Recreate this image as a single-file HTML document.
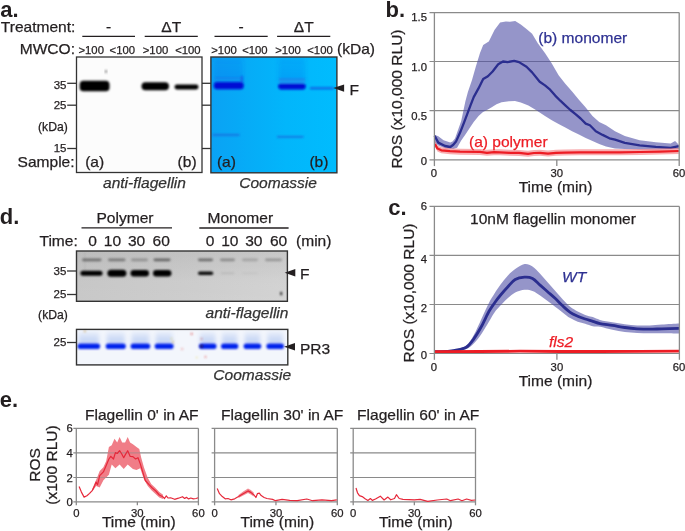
<!DOCTYPE html>
<html><head><meta charset="utf-8"><style>
html,body{margin:0;padding:0;background:#fff;}
svg{display:block;font-family:"Liberation Sans",sans-serif;will-change:transform;}
</style></head><body>
<svg width="685" height="531" viewBox="0 0 685 531">
<defs>
<filter id="blur1" x="-20%" y="-50%" width="140%" height="200%"><feGaussianBlur stdDeviation="0.8"/></filter>
<linearGradient id="laneTint" x1="0" y1="0" x2="0" y2="1"><stop offset="0" stop-color="#1040e0" stop-opacity="0.10"/><stop offset="1" stop-color="#1040e0" stop-opacity="0.18"/></linearGradient>
<linearGradient id="gelA" x1="0" y1="0" x2="1" y2="0">
<stop offset="0" stop-color="#0aa2f4"/><stop offset="0.3" stop-color="#06acf7"/><stop offset="0.6" stop-color="#02b6fb"/><stop offset="1" stop-color="#00bcfe"/></linearGradient>
<linearGradient id="blotD" x1="0" y1="0" x2="1" y2="0">
<stop offset="0" stop-color="#c4c4c4"/><stop offset="0.5" stop-color="#c9c9c9"/><stop offset="1" stop-color="#d0d0d0"/></linearGradient>
<linearGradient id="blotD2" x1="0" y1="0" x2="0" y2="1">
<stop offset="0" stop-color="#000" stop-opacity="0.04"/><stop offset="0.6" stop-color="#fff" stop-opacity="0.05"/><stop offset="1" stop-color="#fff" stop-opacity="0.08"/></linearGradient>
<filter id="blur2" x="-20%" y="-80%" width="140%" height="260%"><feGaussianBlur stdDeviation="1.0"/></filter>
<filter id="blur3" x="-20%" y="-50%" width="140%" height="200%"><feGaussianBlur stdDeviation="2"/></filter>
<linearGradient id="haze" x1="0" y1="0" x2="0" y2="1"><stop offset="0" stop-color="#b8ccf2" stop-opacity="0.25"/><stop offset="1" stop-color="#a8c0f0" stop-opacity="0.75"/></linearGradient>
</defs>
<text x="0.2" y="16.6" text-anchor="start" fill="#231f20" style="font-size:22px;font-weight:bold" >a.</text>
<text x="75.4" y="32" text-anchor="end" fill="#231f20" stroke="#231f20" stroke-width="0.25" style="font-size:15.55px" >Treatment:</text>
<line x1="82.3" y1="36.3" x2="135" y2="36.3" stroke="#231f20" stroke-width="1.3"/>
<text x="108.65" y="32" text-anchor="middle" fill="#231f20" stroke="#231f20" stroke-width="0.25" style="font-size:15.55px" >-</text>
<line x1="144.7" y1="36.3" x2="197.8" y2="36.3" stroke="#231f20" stroke-width="1.3"/>
<text x="171.25" y="32" text-anchor="middle" fill="#231f20" stroke="#231f20" stroke-width="0.25" style="font-size:15.55px" >ΔT</text>
<line x1="214.5" y1="36.3" x2="267.7" y2="36.3" stroke="#231f20" stroke-width="1.3"/>
<text x="241.1" y="32" text-anchor="middle" fill="#231f20" stroke="#231f20" stroke-width="0.25" style="font-size:15.55px" >-</text>
<line x1="277.1" y1="36.3" x2="330.3" y2="36.3" stroke="#231f20" stroke-width="1.3"/>
<text x="303.70000000000005" y="32" text-anchor="middle" fill="#231f20" stroke="#231f20" stroke-width="0.25" style="font-size:15.55px" >ΔT</text>
<text x="75" y="53.5" text-anchor="end" fill="#231f20" stroke="#231f20" stroke-width="0.25" style="font-size:15.55px" >MWCO:</text>
<text x="91.2" y="54" text-anchor="middle" fill="#231f20" stroke="#231f20" stroke-width="0.25" style="font-size:11.3px" >&gt;100</text>
<text x="122.3" y="54" text-anchor="middle" fill="#231f20" stroke="#231f20" stroke-width="0.25" style="font-size:11.3px" >&lt;100</text>
<text x="155.5" y="54" text-anchor="middle" fill="#231f20" stroke="#231f20" stroke-width="0.25" style="font-size:11.3px" >&gt;100</text>
<text x="187.9" y="54" text-anchor="middle" fill="#231f20" stroke="#231f20" stroke-width="0.25" style="font-size:11.3px" >&lt;100</text>
<text x="224" y="54" text-anchor="middle" fill="#231f20" stroke="#231f20" stroke-width="0.25" style="font-size:11.3px" >&gt;100</text>
<text x="254.9" y="54" text-anchor="middle" fill="#231f20" stroke="#231f20" stroke-width="0.25" style="font-size:11.3px" >&lt;100</text>
<text x="288" y="54" text-anchor="middle" fill="#231f20" stroke="#231f20" stroke-width="0.25" style="font-size:11.3px" >&gt;100</text>
<text x="320" y="54" text-anchor="middle" fill="#231f20" stroke="#231f20" stroke-width="0.25" style="font-size:11.3px" >&lt;100</text>
<text x="337" y="53.5" text-anchor="start" fill="#231f20" stroke="#231f20" stroke-width="0.25" style="font-size:15.55px" >(kDa)</text>
<rect x="76.5" y="57" width="125.5" height="115.5" fill="#fcfcfc" stroke="#333" stroke-width="1.3"/>
<g filter="url(#blur1)" fill="#000">
<rect x="79.7" y="80.8" width="29.8" height="10.4" rx="3.8"/>
<rect x="141.5" y="82.2" width="27.5" height="8" rx="4"/>
<rect x="174.5" y="84.6" width="24" height="4.8" rx="2.4"/>
</g>
<ellipse cx="106" cy="71.5" rx="0.8" ry="1.8" fill="#666" filter="url(#blur1)"/>
<line x1="67.2" y1="83.3" x2="76.5" y2="83.3" stroke="#333" stroke-width="1.3"/>
<line x1="202" y1="83.3" x2="210.9" y2="83.3" stroke="#333" stroke-width="1.3"/>
<line x1="67.2" y1="105.2" x2="76.5" y2="105.2" stroke="#333" stroke-width="1.3"/>
<line x1="202" y1="105.2" x2="210.9" y2="105.2" stroke="#333" stroke-width="1.3"/>
<line x1="67.2" y1="148.5" x2="76.5" y2="148.5" stroke="#333" stroke-width="1.3"/>
<line x1="202" y1="148.5" x2="210.9" y2="148.5" stroke="#333" stroke-width="1.3"/>
<text x="66.5" y="88.8" text-anchor="end" fill="#231f20" stroke="#231f20" stroke-width="0.25" style="font-size:11.5px" >35</text>
<text x="66.5" y="109" text-anchor="end" fill="#231f20" stroke="#231f20" stroke-width="0.25" style="font-size:11.5px" >25</text>
<text x="52.9" y="130.5" text-anchor="middle" fill="#231f20" stroke="#231f20" stroke-width="0.25" style="font-size:12.2px" >(kDa)</text>
<text x="66.5" y="152.2" text-anchor="end" fill="#231f20" stroke="#231f20" stroke-width="0.25" style="font-size:11.5px" >15</text>
<text x="74.6" y="166.9" text-anchor="end" fill="#231f20" stroke="#231f20" stroke-width="0.25" style="font-size:15.55px" >Sample:</text>
<text x="85.2" y="167.2" text-anchor="start" fill="#231f20" stroke="#231f20" stroke-width="0.25" style="font-size:15.55px" >(a)</text>
<text x="177.6" y="167.2" text-anchor="start" fill="#231f20" stroke="#231f20" stroke-width="0.25" style="font-size:15.55px" >(b)</text>
<rect x="210.9" y="57" width="126" height="115.8" fill="url(#gelA)"/>
<g filter="url(#blur3)"><rect x="214" y="57.5" width="29" height="25" fill="url(#laneTint)"/>
<rect x="278.5" y="57.5" width="27" height="26" fill="url(#laneTint)"/></g>
<g filter="url(#blur1)">
<rect x="213.8" y="82.1" width="29.9" height="7.1" rx="3.2" fill="#0008d4"/>
<rect x="241.2" y="76" width="1.3" height="7" fill="#1a3ae0"/>
<rect x="215" y="77.6" width="27" height="1.3" fill="#2c6ae4" opacity="0.55"/>
<rect x="278.2" y="83.6" width="27.5" height="5.8" rx="2.8" fill="#0008d4"/>
<rect x="279" y="78.6" width="26" height="1.3" fill="#2c6ae4" opacity="0.7"/>
<rect x="279" y="80" width="26" height="3.6" fill="#3a80e8" opacity="0.35"/>
<rect x="310" y="87.4" width="23.7" height="1.8" fill="#1040d8" opacity="0.85"/>
<rect x="212.5" y="134.1" width="27" height="1.6" fill="#2060d8" opacity="0.85"/>
<rect x="277" y="136" width="26.5" height="1.6" fill="#2060d8" opacity="0.85"/>
</g>
<rect x="210.9" y="57" width="126" height="115.8" fill="none" stroke="#333" stroke-width="1.4"/>
<text x="216.9" y="167.2" text-anchor="start" fill="#231f20" stroke="#231f20" stroke-width="0.25" style="font-size:15.55px" >(a)</text>
<text x="309.4" y="167.2" text-anchor="start" fill="#231f20" stroke="#231f20" stroke-width="0.25" style="font-size:15.55px" >(b)</text>
<text x="103" y="187.8" text-anchor="start" fill="#333" stroke="#333" stroke-width="0.25" style="font-size:15.55px;font-style:italic" >anti-flagellin</text>
<text x="239.2" y="187.8" text-anchor="start" fill="#333" stroke="#333" stroke-width="0.25" style="font-size:15.55px;font-style:italic" >Coomassie</text>
<polygon points="333.3,88.1 344.1,84.4 344.1,91.8" fill="#231f20"/>
<text x="349.4" y="94.7" text-anchor="start" fill="#231f20" stroke="#231f20" stroke-width="0.25" style="font-size:15.55px" >F</text>
<text x="385.6" y="16.6" text-anchor="start" fill="#231f20" style="font-size:22px;font-weight:bold" >b.</text>
<line x1="429.5" y1="12.6" x2="679.2" y2="12.6" stroke="#8a8a8a" stroke-width="1.2"/>
<line x1="429.5" y1="61.5" x2="679.2" y2="61.5" stroke="#8a8a8a" stroke-width="1.2"/>
<line x1="429.5" y1="110.6" x2="679.2" y2="110.6" stroke="#8a8a8a" stroke-width="1.2"/>
<polygon points="434.6,134.7 438.3,136.2 443.6,140.3 450.3,142.6 452.5,141.5 455.0,138.5 461.2,120.9 465.4,101.2 467.9,92.0 472.0,80.0 476.0,66.0 480.0,53.0 483.2,45.1 488.8,41.4 494.5,30.1 500.1,22.5 505.8,21.6 510.0,21.8 515.2,21.0 520.8,24.4 526.5,29.1 532.1,33.8 537.8,43.2 545.3,53.6 551.8,63.4 558.6,75.3 565.3,83.7 572.1,91.4 578.9,99.8 585.7,107.5 592.5,115.9 599.2,121.9 606.0,125.3 615.0,131.2 624.8,136.0 639.7,140.3 655.8,142.2 670.7,143.4 675.1,141.0 678.8,144.7 678.8,149.0 655.8,149.6 639.7,149.6 624.8,149.0 615.0,148.5 606.0,146.4 599.2,143.9 592.5,141.0 585.7,138.0 578.9,134.6 572.1,131.2 565.3,127.5 558.6,124.1 551.8,120.2 545.0,115.9 535.9,110.1 528.4,105.4 520.8,102.6 515.0,101.0 508.9,101.2 501.6,102.3 496.5,104.3 491.3,107.4 486.1,110.5 483.0,112.1 478.8,115.7 473.7,121.9 469.5,128.2 465.4,134.4 461.2,140.6 457.1,147.8 453.3,149.0 445.1,148.2 438.3,145.6 434.6,142.6" fill="#4e4ea5" fill-opacity="0.6" stroke="none"/>
<polyline points="434.6,135.8 438.3,142.6 445.1,146.0 450.3,147.0 453.3,144.8 456.0,141.6 460.2,132.3 464.3,121.9 467.4,113.7 470.5,105.4 473.7,97.1 478.5,88.4 483.2,79.0 487.9,76.2 492.6,71.5 498.2,64.3 503.0,61.5 507.7,62.1 514.2,60.8 519.0,62.1 526.5,66.8 532.1,72.4 539.7,81.8 545.0,85.4 550.1,89.7 555.2,95.6 560.3,100.7 565.3,105.4 570.4,110.0 575.5,114.2 580.6,118.5 585.7,123.6 589.9,125.3 595.8,131.2 602.6,134.9 609.4,138.3 615.0,139.7 624.8,142.8 639.7,145.3 655.8,146.9 670.7,147.8 678.8,146.2" fill="none" stroke="#2b2e8f" stroke-width="2.3" stroke-opacity="1.0" stroke-linejoin="round" stroke-linecap="butt" />
<polygon points="435.0,141.1 437.5,145.6 441.3,147.3 450.0,148.2 460.0,148.7 480.0,148.9 487.0,149.8 494.0,149.2 500.0,149.3 510.0,149.8 519.0,149.9 528.0,150.8 534.0,150.0 540.0,149.8 548.0,150.6 556.0,149.8 565.0,149.6 580.0,149.3 600.0,149.3 620.0,149.3 640.0,149.0 660.0,148.6 678.8,148.0 678.8,154.0 660.0,154.6 640.0,155.0 620.0,155.3 600.0,155.3 580.0,155.3 565.0,155.6 556.0,155.8 548.0,156.6 540.0,155.8 534.0,156.0 528.0,156.8 519.0,155.9 510.0,155.8 500.0,155.3 494.0,155.2 487.0,155.8 480.0,154.9 460.0,154.7 450.0,154.2 441.3,153.3 437.5,151.6 435.0,147.1" fill="#f37a80" fill-opacity="0.62" stroke="none"/>
<polyline points="435.0,144.1 437.5,148.6 441.3,150.3 450.0,151.2 460.0,151.7 480.0,151.9 487.0,152.8 494.0,152.2 500.0,152.3 510.0,152.8 519.0,152.9 528.0,153.8 534.0,153.0 540.0,152.8 548.0,153.6 556.0,152.8 565.0,152.6 580.0,152.3 600.0,152.3 620.0,152.3 640.0,152.0 660.0,151.6 678.8,151.0" fill="none" stroke="#ed1c24" stroke-width="2.2" stroke-opacity="1.0" stroke-linejoin="round" stroke-linecap="butt" />
<line x1="429.5" y1="159.8" x2="679.2" y2="159.8" stroke="#8a8a8a" stroke-width="1.2"/>
<line x1="434.4" y1="12.6" x2="434.4" y2="166.10000000000002" stroke="#8a8a8a" stroke-width="1.3"/>
<line x1="679.2" y1="12.6" x2="679.2" y2="166.10000000000002" stroke="#8a8a8a" stroke-width="1.3"/>
<line x1="556.8" y1="159.8" x2="556.8" y2="166.10000000000002" stroke="#8a8a8a" stroke-width="1.3"/>
<text x="427" y="21" text-anchor="end" fill="#231f20" stroke="#231f20" stroke-width="0.25" style="font-size:11.3px" >1.5</text>
<text x="427" y="71.3" text-anchor="end" fill="#231f20" stroke="#231f20" stroke-width="0.25" style="font-size:11.3px" >1.0</text>
<text x="427" y="119.9" text-anchor="end" fill="#231f20" stroke="#231f20" stroke-width="0.25" style="font-size:11.3px" >0.5</text>
<text x="427" y="165" text-anchor="end" fill="#231f20" stroke="#231f20" stroke-width="0.25" style="font-size:11.3px" >0</text>
<text x="434" y="177" text-anchor="middle" fill="#231f20" stroke="#231f20" stroke-width="0.25" style="font-size:11.3px" >0</text>
<text x="556.8" y="177.3" text-anchor="middle" fill="#231f20" stroke="#231f20" stroke-width="0.25" style="font-size:11.3px" >30</text>
<text x="679" y="177.3" text-anchor="middle" fill="#231f20" stroke="#231f20" stroke-width="0.25" style="font-size:11.3px" >60</text>
<text x="555.5" y="191.5" text-anchor="middle" fill="#231f20" stroke="#231f20" stroke-width="0.25" style="font-size:15.55px" >Time (min)</text>
<text transform="translate(401.5,99) rotate(-90)" text-anchor="middle" fill="#231f20" stroke="#231f20" stroke-width="0.25" style="font-size:15.55px">ROS (x10,000 RLU)</text>
<text x="538.3" y="43.4" text-anchor="start" fill="#2e3192" stroke="#2e3192" stroke-width="0.25" style="font-size:15.55px" >(b) monomer</text>
<text x="469" y="146.7" text-anchor="start" fill="#ed1c24" stroke="#ed1c24" stroke-width="0.25" style="font-size:15.55px" >(a) polymer</text>
<text x="388.3" y="214.6" text-anchor="start" fill="#231f20" style="font-size:22px;font-weight:bold" >c.</text>
<line x1="429.5" y1="206.4" x2="679.4" y2="206.4" stroke="#8a8a8a" stroke-width="1.2"/>
<line x1="429.5" y1="255.3" x2="679.4" y2="255.3" stroke="#8a8a8a" stroke-width="1.2"/>
<line x1="429.5" y1="304.5" x2="679.4" y2="304.5" stroke="#8a8a8a" stroke-width="1.2"/>
<path d="M455.00,349.50 C456.88,348.82 463.17,347.82 466.30,345.40 C469.43,342.98 471.28,339.40 473.80,335.00 C476.32,330.60 478.88,324.33 481.40,319.00 C483.92,313.67 486.72,307.23 488.90,303.00 C491.08,298.77 492.62,296.58 494.50,293.60 C496.38,290.62 498.00,288.08 500.20,285.10 C502.40,282.12 505.20,278.37 507.70,275.70 C510.20,273.03 512.38,271.05 515.20,269.10 C518.02,267.15 521.72,264.43 524.60,264.00 C527.48,263.57 529.92,264.87 532.50,266.50 C535.08,268.13 537.58,271.17 540.10,273.80 C542.62,276.43 545.10,279.47 547.60,282.30 C550.10,285.13 552.60,287.98 555.10,290.80 C557.60,293.62 560.08,296.53 562.60,299.20 C565.12,301.87 567.68,304.75 570.20,306.80 C572.72,308.85 575.20,310.15 577.70,311.50 C580.20,312.85 582.68,313.97 585.20,314.90 C587.72,315.83 590.33,316.27 592.80,317.10 C595.27,317.93 596.73,319.03 600.00,319.90 C603.27,320.77 608.27,321.58 612.40,322.30 C616.53,323.02 620.67,323.68 624.80,324.20 C628.93,324.72 633.07,325.20 637.20,325.40 C641.33,325.60 645.47,325.53 649.60,325.40 C653.73,325.27 657.10,324.90 662.00,324.60 C666.90,324.30 676.17,323.77 679.00,323.60 L679.00,333.50 C676.17,333.47 666.90,333.33 662.00,333.30 C657.10,333.27 653.73,333.37 649.60,333.30 C645.47,333.23 641.33,333.12 637.20,332.90 C633.07,332.68 628.93,332.52 624.80,332.00 C620.67,331.48 616.53,330.68 612.40,329.80 C608.27,328.92 603.27,327.30 600.00,326.70 C596.73,326.10 595.27,326.70 592.80,326.20 C590.33,325.70 587.72,324.43 585.20,323.70 C582.68,322.97 580.20,322.73 577.70,321.80 C575.20,320.87 572.72,319.67 570.20,318.10 C567.68,316.53 565.12,314.28 562.60,312.40 C560.08,310.52 557.60,308.68 555.10,306.80 C552.60,304.92 550.10,302.98 547.60,301.10 C545.10,299.22 542.62,297.18 540.10,295.50 C537.58,293.82 535.08,291.95 532.50,291.00 C529.92,290.05 527.48,289.53 524.60,289.80 C521.72,290.07 518.02,291.18 515.20,292.60 C512.38,294.02 510.20,296.10 507.70,298.30 C505.20,300.50 502.40,303.45 500.20,305.80 C498.00,308.15 496.38,309.73 494.50,312.40 C492.62,315.07 491.08,318.20 488.90,321.80 C486.72,325.40 483.92,330.38 481.40,334.00 C478.88,337.62 476.32,340.98 473.80,343.50 C471.28,346.02 469.43,347.93 466.30,349.10 C463.17,350.27 456.88,350.27 455.00,350.50 Z" fill="#4e4ea5" fill-opacity="0.6" stroke="none"/>
<path d="M434.40,351.60 C436.63,351.57 444.37,351.60 447.80,351.40 C451.23,351.20 451.92,351.10 455.00,350.40 C458.08,349.70 463.17,349.13 466.30,347.20 C469.43,345.27 471.28,342.25 473.80,338.80 C476.32,335.35 478.88,331.05 481.40,326.50 C483.92,321.95 486.72,315.42 488.90,311.50 C491.08,307.58 492.62,305.67 494.50,303.00 C496.38,300.33 498.00,298.17 500.20,295.50 C502.40,292.83 505.20,289.67 507.70,287.00 C510.20,284.33 512.38,281.13 515.20,279.50 C518.02,277.87 521.72,277.37 524.60,277.20 C527.48,277.03 529.92,277.18 532.50,278.50 C535.08,279.82 537.58,282.90 540.10,285.10 C542.62,287.30 545.10,289.50 547.60,291.70 C550.10,293.90 552.60,295.95 555.10,298.30 C557.60,300.65 560.08,303.45 562.60,305.80 C565.12,308.15 567.68,310.67 570.20,312.40 C572.72,314.13 575.20,315.10 577.70,316.20 C580.20,317.30 582.68,318.15 585.20,319.00 C587.72,319.85 590.33,320.53 592.80,321.30 C595.27,322.07 596.73,322.92 600.00,323.60 C603.27,324.28 608.27,324.75 612.40,325.40 C616.53,326.05 620.67,326.93 624.80,327.50 C628.93,328.07 633.07,328.52 637.20,328.80 C641.33,329.08 645.47,329.20 649.60,329.20 C653.73,329.20 657.10,328.95 662.00,328.80 C666.90,328.65 676.17,328.38 679.00,328.30" fill="none" stroke="#2b2e8f" stroke-width="2.8" stroke-opacity="1.0" stroke-linejoin="round"/>
<polyline points="434.4,351.6 480.0,351.5 520.0,351.2 560.0,351.5 600.0,351.5 640.0,351.3 679.0,351.1" fill="none" stroke="#ed1c24" stroke-width="2.8" stroke-opacity="1.0" stroke-linejoin="round" stroke-linecap="butt" />
<line x1="429.5" y1="353.5" x2="679.4" y2="353.5" stroke="#8a8a8a" stroke-width="1.2"/>
<line x1="434.4" y1="206.4" x2="434.4" y2="359.8" stroke="#8a8a8a" stroke-width="1.3"/>
<line x1="679.4" y1="206.4" x2="679.4" y2="359.8" stroke="#8a8a8a" stroke-width="1.3"/>
<line x1="556.9" y1="353.5" x2="556.9" y2="359.8" stroke="#8a8a8a" stroke-width="1.3"/>
<text x="427" y="210" text-anchor="end" fill="#231f20" stroke="#231f20" stroke-width="0.25" style="font-size:11.3px" >6</text>
<text x="427" y="262.8" text-anchor="end" fill="#231f20" stroke="#231f20" stroke-width="0.25" style="font-size:11.3px" >4</text>
<text x="427" y="312.2" text-anchor="end" fill="#231f20" stroke="#231f20" stroke-width="0.25" style="font-size:11.3px" >2</text>
<text x="427" y="358.9" text-anchor="end" fill="#231f20" stroke="#231f20" stroke-width="0.25" style="font-size:11.3px" >0</text>
<text x="434" y="371.2" text-anchor="middle" fill="#231f20" stroke="#231f20" stroke-width="0.25" style="font-size:11.3px" >0</text>
<text x="556.9" y="371.2" text-anchor="middle" fill="#231f20" stroke="#231f20" stroke-width="0.25" style="font-size:11.3px" >30</text>
<text x="679" y="371.2" text-anchor="middle" fill="#231f20" stroke="#231f20" stroke-width="0.25" style="font-size:11.3px" >60</text>
<text x="555.5" y="385.8" text-anchor="middle" fill="#231f20" stroke="#231f20" stroke-width="0.25" style="font-size:15.55px" >Time (min)</text>
<text transform="translate(414.3,293) rotate(-90)" text-anchor="middle" fill="#231f20" stroke="#231f20" stroke-width="0.25" style="font-size:15.55px">ROS (x10,000 RLU)</text>
<text x="470" y="224.2" text-anchor="start" fill="#231f20" stroke="#231f20" stroke-width="0.25" style="font-size:15.55px" >10nM flagellin monomer</text>
<text x="562" y="282.1" text-anchor="start" fill="#2e3192" stroke="#2e3192" stroke-width="0.25" style="font-size:15.55px;font-style:italic" >WT</text>
<text x="549" y="346.6" text-anchor="start" fill="#ed1c24" stroke="#ed1c24" stroke-width="0.25" style="font-size:15.55px;font-style:italic" >fls2</text>
<text x="-0.3" y="223.5" text-anchor="start" fill="#231f20" style="font-size:22px;font-weight:bold" >d.</text>
<text x="125.0" y="223.1" text-anchor="middle" fill="#231f20" stroke="#231f20" stroke-width="0.25" style="font-size:15.55px" >Polymer</text>
<line x1="81.5" y1="227.8" x2="172" y2="227.8" stroke="#231f20" stroke-width="1.3"/>
<text x="240.3" y="223.1" text-anchor="middle" fill="#231f20" stroke="#231f20" stroke-width="0.25" style="font-size:15.55px" >Monomer</text>
<line x1="199.3" y1="228" x2="288.6" y2="228" stroke="#231f20" stroke-width="1.3"/>
<text x="77.8" y="246" text-anchor="end" fill="#231f20" stroke="#231f20" stroke-width="0.25" style="font-size:15.55px" >Time:</text>
<text x="92.7" y="246" text-anchor="middle" fill="#231f20" stroke="#231f20" stroke-width="0.25" style="font-size:15.55px" >0</text>
<text x="112.5" y="246" text-anchor="middle" fill="#231f20" stroke="#231f20" stroke-width="0.25" style="font-size:15.55px" >10</text>
<text x="136.6" y="246" text-anchor="middle" fill="#231f20" stroke="#231f20" stroke-width="0.25" style="font-size:15.55px" >30</text>
<text x="161.2" y="246" text-anchor="middle" fill="#231f20" stroke="#231f20" stroke-width="0.25" style="font-size:15.55px" >60</text>
<text x="210.1" y="246" text-anchor="middle" fill="#231f20" stroke="#231f20" stroke-width="0.25" style="font-size:15.55px" >0</text>
<text x="229.8" y="246" text-anchor="middle" fill="#231f20" stroke="#231f20" stroke-width="0.25" style="font-size:15.55px" >10</text>
<text x="253.8" y="246" text-anchor="middle" fill="#231f20" stroke="#231f20" stroke-width="0.25" style="font-size:15.55px" >30</text>
<text x="278.6" y="246" text-anchor="middle" fill="#231f20" stroke="#231f20" stroke-width="0.25" style="font-size:15.55px" >60</text>
<text x="296" y="246" text-anchor="start" fill="#231f20" stroke="#231f20" stroke-width="0.25" style="font-size:15.55px" >(min)</text>
<rect x="76.5" y="251" width="210.9" height="50.3" fill="url(#blotD)"/>
<rect x="76.5" y="251" width="210.9" height="50.3" fill="url(#blotD2)"/>
<g filter="url(#blur2)" fill="#000">
<rect x="80.4" y="270.7" width="22.099999999999994" height="5.0" rx="2.5" fill-opacity="1"/>
<rect x="107.4" y="269.7" width="19.0" height="7" rx="3.5" fill-opacity="1"/>
<rect x="130.5" y="269.95" width="18.5" height="6.5" rx="3.25" fill-opacity="1"/>
<rect x="153" y="269.95" width="18.400000000000006" height="6.5" rx="3.25" fill-opacity="1"/>
<rect x="198" y="271.4" width="15.199999999999989" height="3.6" rx="1.8" fill-opacity="0.95"/>
<rect x="220.5" y="272.4" width="14.0" height="1.6" rx="0.8" fill-opacity="0.1"/>
<rect x="242" y="272.5" width="16" height="1.4" rx="0.7" fill-opacity="0.05"/>
<rect x="82" y="258.4" width="19.5" height="2.8" rx="1.4" fill-opacity="0.42"/>
<rect x="108" y="258.4" width="17.5" height="2.8" rx="1.4" fill-opacity="0.38"/>
<rect x="131" y="258.4" width="17" height="2.8" rx="1.4" fill-opacity="0.25"/>
<rect x="153.5" y="258.4" width="17.0" height="2.8" rx="1.4" fill-opacity="0.48"/>
<rect x="198" y="258.4" width="15" height="2.8" rx="1.4" fill-opacity="0.45"/>
<rect x="220" y="258.4" width="15" height="2.8" rx="1.4" fill-opacity="0.3"/>
<rect x="242" y="258.4" width="16" height="2.8" rx="1.4" fill-opacity="0.18"/>
<rect x="265" y="258.4" width="17" height="2.8" rx="1.4" fill-opacity="0.25"/>
<rect x="280.4" y="291.8" width="1.6" height="3.6" rx="0.8" fill-opacity="1"/>
<rect x="84.6" y="252" width="0.6" height="20" fill-opacity="0.12"/>
</g>
<rect x="76.5" y="251" width="210.9" height="50.3" fill="none" stroke="#333" stroke-width="1.4"/>
<line x1="67" y1="271" x2="76.5" y2="271" stroke="#333" stroke-width="1.3"/>
<text x="66.3" y="274.9" text-anchor="end" fill="#231f20" stroke="#231f20" stroke-width="0.25" style="font-size:11.5px" >35</text>
<line x1="67" y1="294.5" x2="76.5" y2="294.5" stroke="#333" stroke-width="1.3"/>
<text x="66.3" y="298.4" text-anchor="end" fill="#231f20" stroke="#231f20" stroke-width="0.25" style="font-size:11.5px" >25</text>
<polygon points="284.7,272.7 295.3,269 295.3,276.4" fill="#231f20"/>
<text x="300" y="279.4" text-anchor="start" fill="#231f20" stroke="#231f20" stroke-width="0.25" style="font-size:15.55px" >F</text>
<text x="53" y="319" text-anchor="middle" fill="#231f20" stroke="#231f20" stroke-width="0.25" style="font-size:12.2px" >(kDa)</text>
<text x="205.5" y="318.1" text-anchor="start" fill="#333" stroke="#333" stroke-width="0.25" style="font-size:15.55px;font-style:italic" >anti-flagellin</text>
<rect x="76.5" y="329.4" width="211.3" height="35.5" fill="#f3f6fc"/>
<g filter="url(#blur3)">
<rect x="78.5" y="332" width="20.599999999999994" height="11.5" fill="url(#haze)"/>
<rect x="106.7" y="332" width="18.099999999999994" height="11.5" fill="url(#haze)"/>
<rect x="131.6" y="332" width="17.599999999999994" height="11.5" fill="url(#haze)"/>
<rect x="155.7" y="332" width="16.900000000000006" height="11.5" fill="url(#haze)"/>
<rect x="199.9" y="332" width="15.599999999999994" height="11.5" fill="url(#haze)"/>
<rect x="222" y="332" width="15.300000000000011" height="11.5" fill="url(#haze)"/>
<rect x="244.6" y="332" width="15.599999999999994" height="11.5" fill="url(#haze)"/>
<rect x="267.4" y="332" width="15.600000000000023" height="11.5" fill="url(#haze)"/>
</g>
<g filter="url(#blur1)">
<rect x="77.5" y="343.5" width="22.599999999999994" height="5.6" rx="2.8" fill="#0422ec"/>
<rect x="105.7" y="343.5" width="20.099999999999994" height="5.6" rx="2.8" fill="#0422ec"/>
<rect x="130.6" y="343.5" width="19.599999999999994" height="5.6" rx="2.8" fill="#0422ec"/>
<rect x="154.7" y="343.5" width="18.900000000000006" height="5.6" rx="2.8" fill="#0422ec"/>
<rect x="198.9" y="343.5" width="17.599999999999994" height="5.6" rx="2.8" fill="#0422ec"/>
<rect x="221" y="343.5" width="17.30000000000001" height="5.6" rx="2.8" fill="#0422ec"/>
<rect x="243.6" y="343.5" width="17.599999999999994" height="5.6" rx="2.8" fill="#0422ec"/>
<rect x="266.4" y="343.5" width="17.600000000000023" height="5.6" rx="2.8" fill="#0422ec"/>
</g>
<g filter="url(#blur1)">
<rect x="191" y="333" width="1.2" height="1.6" fill="#d02020"/>
<rect x="181.5" y="348.5" width="1.4" height="1" fill="#e04040"/>
<rect x="205" y="356" width="1" height="1.6" fill="#e03030"/>
<rect x="201" y="338" width="1" height="1.4" fill="#c03030"/>
<rect x="171" y="338" width="1" height="1.2" fill="#e8d040"/>
<rect x="196" y="357" width="1.4" height="1" fill="#e8d860"/>
<rect x="84" y="330.5" width="1.6" height="1.4" fill="#c09040"/>
<rect x="200.5" y="345" width="2" height="2.4" fill="#401010"/>
<rect x="172.5" y="341" width="1" height="2" fill="#c0a040"/>
</g>
<rect x="76.5" y="329.4" width="211.3" height="35.5" fill="none" stroke="#333" stroke-width="1.4"/>
<line x1="67" y1="342.5" x2="76.5" y2="342.5" stroke="#333" stroke-width="1.3"/>
<text x="66.3" y="346.4" text-anchor="end" fill="#231f20" stroke="#231f20" stroke-width="0.25" style="font-size:11.5px" >25</text>
<polygon points="284.1,346.8 295,343 295,350.6" fill="#231f20"/>
<text x="300" y="353.6" text-anchor="start" fill="#231f20" stroke="#231f20" stroke-width="0.25" style="font-size:15.55px" >PR3</text>
<text x="213.3" y="379.9" text-anchor="start" fill="#333" stroke="#333" stroke-width="0.25" style="font-size:15.55px;font-style:italic" >Coomassie</text>
<text x="-0.2" y="407.3" text-anchor="start" fill="#231f20" style="font-size:22px;font-weight:bold" >e.</text>
<line x1="73.3" y1="428.3" x2="198.4" y2="428.3" stroke="#8a8a8a" stroke-width="1.2"/>
<line x1="73.3" y1="452.8" x2="198.4" y2="452.8" stroke="#8a8a8a" stroke-width="1.2"/>
<line x1="73.3" y1="477.5" x2="198.4" y2="477.5" stroke="#8a8a8a" stroke-width="1.2"/>
<line x1="73.3" y1="501.8" x2="198.4" y2="501.8" stroke="#8a8a8a" stroke-width="1.2"/>
<line x1="76.3" y1="428.3" x2="76.3" y2="505.3" stroke="#8a8a8a" stroke-width="1.3"/>
<line x1="198.4" y1="428.3" x2="198.4" y2="505.3" stroke="#8a8a8a" stroke-width="1.3"/>
<line x1="137.35" y1="501.8" x2="137.35" y2="505.3" stroke="#8a8a8a" stroke-width="1.3"/>
<text x="141.8" y="419.7" text-anchor="middle" fill="#231f20" stroke="#231f20" stroke-width="0.25" style="font-size:15.55px" >Flagellin 0' in AF</text>
<text x="76.3" y="517" text-anchor="middle" fill="#231f20" stroke="#231f20" stroke-width="0.25" style="font-size:11.3px" >0</text>
<text x="137.35" y="517" text-anchor="middle" fill="#231f20" stroke="#231f20" stroke-width="0.25" style="font-size:11.3px" >30</text>
<text x="198.4" y="517" text-anchor="middle" fill="#231f20" stroke="#231f20" stroke-width="0.25" style="font-size:11.3px" >60</text>
<text x="138.75" y="526.6" text-anchor="middle" fill="#231f20" stroke="#231f20" stroke-width="0.25" style="font-size:15.55px" >Time (min)</text>
<line x1="211.6" y1="428.3" x2="337.3" y2="428.3" stroke="#8a8a8a" stroke-width="1.2"/>
<line x1="211.6" y1="452.8" x2="337.3" y2="452.8" stroke="#8a8a8a" stroke-width="1.2"/>
<line x1="211.6" y1="477.5" x2="337.3" y2="477.5" stroke="#8a8a8a" stroke-width="1.2"/>
<line x1="211.6" y1="501.8" x2="337.3" y2="501.8" stroke="#8a8a8a" stroke-width="1.2"/>
<line x1="214.6" y1="428.3" x2="214.6" y2="505.3" stroke="#8a8a8a" stroke-width="1.3"/>
<line x1="337.3" y1="428.3" x2="337.3" y2="505.3" stroke="#8a8a8a" stroke-width="1.3"/>
<line x1="275.95" y1="501.8" x2="275.95" y2="505.3" stroke="#8a8a8a" stroke-width="1.3"/>
<text x="282.2" y="419.7" text-anchor="middle" fill="#231f20" stroke="#231f20" stroke-width="0.25" style="font-size:15.55px" >Flagellin 30' in AF</text>
<text x="214.6" y="517" text-anchor="middle" fill="#231f20" stroke="#231f20" stroke-width="0.25" style="font-size:11.3px" >0</text>
<text x="275.95" y="517" text-anchor="middle" fill="#231f20" stroke="#231f20" stroke-width="0.25" style="font-size:11.3px" >30</text>
<text x="337.3" y="517" text-anchor="middle" fill="#231f20" stroke="#231f20" stroke-width="0.25" style="font-size:11.3px" >60</text>
<text x="277.34999999999997" y="526.6" text-anchor="middle" fill="#231f20" stroke="#231f20" stroke-width="0.25" style="font-size:15.55px" >Time (min)</text>
<line x1="350.2" y1="428.3" x2="475.5" y2="428.3" stroke="#8a8a8a" stroke-width="1.2"/>
<line x1="350.2" y1="452.8" x2="475.5" y2="452.8" stroke="#8a8a8a" stroke-width="1.2"/>
<line x1="350.2" y1="477.5" x2="475.5" y2="477.5" stroke="#8a8a8a" stroke-width="1.2"/>
<line x1="350.2" y1="501.8" x2="475.5" y2="501.8" stroke="#8a8a8a" stroke-width="1.2"/>
<line x1="353.2" y1="428.3" x2="353.2" y2="505.3" stroke="#8a8a8a" stroke-width="1.3"/>
<line x1="475.5" y1="428.3" x2="475.5" y2="505.3" stroke="#8a8a8a" stroke-width="1.3"/>
<line x1="414.35" y1="501.8" x2="414.35" y2="505.3" stroke="#8a8a8a" stroke-width="1.3"/>
<text x="418.2" y="419.7" text-anchor="middle" fill="#231f20" stroke="#231f20" stroke-width="0.25" style="font-size:15.55px" >Flagellin 60' in AF</text>
<text x="353.2" y="517" text-anchor="middle" fill="#231f20" stroke="#231f20" stroke-width="0.25" style="font-size:11.3px" >0</text>
<text x="414.35" y="517" text-anchor="middle" fill="#231f20" stroke="#231f20" stroke-width="0.25" style="font-size:11.3px" >30</text>
<text x="475.5" y="517" text-anchor="middle" fill="#231f20" stroke="#231f20" stroke-width="0.25" style="font-size:11.3px" >60</text>
<text x="415.75" y="526.6" text-anchor="middle" fill="#231f20" stroke="#231f20" stroke-width="0.25" style="font-size:15.55px" >Time (min)</text>
<text x="72.8" y="432.4" text-anchor="end" fill="#231f20" stroke="#231f20" stroke-width="0.25" style="font-size:11.3px" >6</text>
<text x="72.8" y="456.8" text-anchor="end" fill="#231f20" stroke="#231f20" stroke-width="0.25" style="font-size:11.3px" >4</text>
<text x="72.8" y="481.5" text-anchor="end" fill="#231f20" stroke="#231f20" stroke-width="0.25" style="font-size:11.3px" >2</text>
<text x="72.8" y="506" text-anchor="end" fill="#231f20" stroke="#231f20" stroke-width="0.25" style="font-size:11.3px" >0</text>
<text transform="translate(40,465) rotate(-90)" text-anchor="middle" fill="#231f20" stroke="#231f20" stroke-width="0.25" style="font-size:15.55px">ROS</text>
<text transform="translate(56.5,465) rotate(-90)" text-anchor="middle" fill="#231f20" stroke="#231f20" stroke-width="0.25" style="font-size:15.55px">(x100 RLU)</text>
<polygon points="92.4,488.5 96.1,480.0 99.7,471.0 103.4,467.3 106.2,460.9 108.9,447.1 111.7,445.2 114.5,438.8 117.2,442.5 119.6,437.0 122.2,442.5 125.1,442.5 127.7,437.0 130.1,442.5 132.9,444.3 136.5,447.1 139.3,448.9 141.1,457.2 143.9,467.3 147.6,477.4 151.2,484.0 155.0,487.5 159.3,492.0 163.0,494.8 163.0,499.0 159.3,497.5 155.0,493.5 151.2,490.0 147.6,485.7 143.9,479.3 140.2,468.2 136.5,470.1 132.9,469.1 127.7,464.5 123.7,469.1 119.6,464.5 115.4,468.2 111.7,464.5 108.9,474.7 103.4,480.2 99.7,487.5 96.1,486.0 92.4,491.5" fill="#f07d87" fill-opacity="1" stroke="none"/>
<clipPath id="e1clip"><polygon points="92.4,488.5 96.1,480.0 99.7,471.0 103.4,467.3 106.2,460.9 108.9,447.1 111.7,445.2 114.5,438.8 117.2,442.5 119.6,437.0 122.2,442.5 125.1,442.5 127.7,437.0 130.1,442.5 132.9,444.3 136.5,447.1 139.3,448.9 141.1,457.2 143.9,467.3 147.6,477.4 151.2,484.0 155.0,487.5 159.3,492.0 163.0,494.8 163.0,499.0 159.3,497.5 155.0,493.5 151.2,490.0 147.6,485.7 143.9,479.3 140.2,468.2 136.5,470.1 132.9,469.1 127.7,464.5 123.7,469.1 119.6,464.5 115.4,468.2 111.7,464.5 108.9,474.7 103.4,480.2 99.7,487.5 96.1,486.0 92.4,491.5"/></clipPath>
<line x1="90" y1="452.8" x2="160" y2="452.8" stroke="#8a8a8a" stroke-width="1.2" stroke-opacity="0.5" clip-path="url(#e1clip)"/>
<line x1="90" y1="477.5" x2="160" y2="477.5" stroke="#8a8a8a" stroke-width="1.2" stroke-opacity="0.5" clip-path="url(#e1clip)"/>
<polyline points="79.1,486.6 81.4,492.1 84.1,497.1 86.9,495.8 89.6,493.4 92.4,490.3 94.6,485.7 96.1,482.0 97.5,484.8 99.7,475.6 103.4,471.9 106.2,465.5 108.9,459.0 110.8,456.3 113.5,459.0 115.4,452.6 117.2,453.5 119.6,450.7 121.5,453.5 123.7,457.7 125.5,454.4 127.7,450.7 130.1,456.3 132.9,456.6 135.6,459.0 138.0,457.7 140.2,463.6 143.0,472.8 145.3,480.5 148.8,484.4 152.3,488.0 155.8,491.0 159.3,495.0 162.8,496.7 164.5,498.5 166.3,495.8 168.0,498.0 170.6,497.8 174.6,499.3 178.5,498.2 182.5,496.7 184.7,498.5 186.4,497.3 188.6,498.9 190.8,498.0 193.4,498.9 196.0,498.5 198.2,497.8" fill="none" stroke="#e6283a" stroke-width="1.2" stroke-opacity="1.0" stroke-linejoin="round" stroke-linecap="butt" />
<polygon points="238.5,495.0 243.2,491.5 248.0,488.6 250.8,490.0 253.7,492.5 253.7,496.5 250.8,494.5 248.0,493.0 243.2,495.5 238.5,498.0" fill="#f07d87" fill-opacity="0.9" stroke="none"/>
<polyline points="217.2,488.6 219.5,493.7 222.3,496.6 225.2,498.8 228.0,498.5 230.9,499.8 234.7,498.8 238.5,496.6 243.2,493.7 248.0,490.9 250.8,492.4 253.7,494.7 255.9,497.5 257.4,493.7 259.3,493.2 261.2,495.6 264.1,497.5 266.9,498.5 272.6,499.4 275.5,500.7 282.1,499.4 289.7,500.4 297.3,500.7 306.8,499.0 312.5,500.7 322.0,499.8 331.5,500.7 336.8,499.8" fill="none" stroke="#e6283a" stroke-width="1.2" stroke-opacity="1.0" stroke-linejoin="round" stroke-linecap="butt" />
<polyline points="356.0,488.0 357.5,492.8 359.4,495.6 362.2,496.6 365.1,498.8 367.9,500.4 370.4,498.5 372.3,500.4 375.5,499.0 380.3,496.2 384.1,500.0 387.9,497.1 390.7,499.8 394.5,498.5 396.4,494.7 399.2,498.5 403.0,499.4 414.4,499.8 420.1,499.4 427.7,501.3 437.2,500.0 446.7,499.0 450.5,500.7 458.1,499.0 461.9,500.7 466.6,499.0 471.4,500.4 475.2,500.0" fill="none" stroke="#e6283a" stroke-width="1.2" stroke-opacity="1.0" stroke-linejoin="round" stroke-linecap="butt" />
</svg>
</body></html>
